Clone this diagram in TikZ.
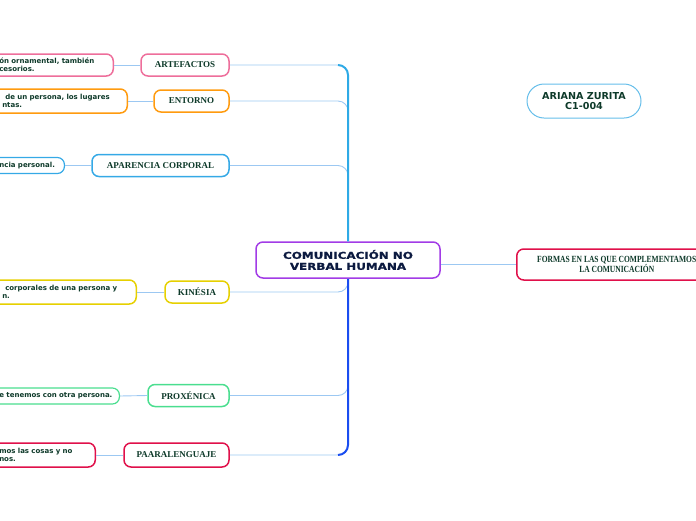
\documentclass[tikz,border=0pt]{standalone}
\usepackage{fontspec}
\setmainfont{Liberation Serif}
\newfontfamily\leaffont{DejaVu Sans}
\newfontfamily\titlefont[FakeStretch=1.25, FakeBold=1.2]{DejaVu Sans}
\newfontfamily\condfont[FakeStretch=0.8]{Liberation Serif}
\usetikzlibrary{positioning, calc}

\definecolor{pinkc}{HTML}{EE6E9B}
\definecolor{orangec}{HTML}{FF9B0F}
\definecolor{bluec}{HTML}{35A9E6}
\definecolor{yellowc}{HTML}{E6D000}
\definecolor{greenc}{HTML}{4ADE8F}
\definecolor{redc}{HTML}{E0104A}
\definecolor{purplec}{HTML}{A23BE6}
\definecolor{textc}{HTML}{0E3A2A}
\definecolor{navyc}{HTML}{0C1A40}
\definecolor{trunkup}{HTML}{2EAAE6}
\definecolor{trunkdown}{HTML}{1A4DF0}
\definecolor{branchc}{HTML}{9CC8F2}
\definecolor{namec}{HTML}{66BEEA}

\begin{document}
\begin{tikzpicture}[x=1pt, y=-1pt,
    box/.style={draw, line width=1.5pt, fill=white, rounded corners=7pt},
    topic/.style={box, minimum height=22pt, inner sep=0pt, text=textc,
        font=\bfseries\fontsize{9}{10}\selectfont},
    leaf/.style={box, anchor=east, align=left, inner xsep=10pt, inner ysep=3pt,
        text=textc, font=\leaffont\bfseries\fontsize{7}{8}\selectfont},
    branch/.style={draw=branchc, line width=0.9pt, rounded corners=10pt},
    trunk/.style={line width=2pt, rounded corners=10pt}]
\useasboundingbox (0,0) rectangle (696,520);

% central idea
\node[box, draw=purplec, minimum width=184pt, minimum height=36pt, align=center,
    text=navyc, font=\titlefont\bfseries\fontsize{9.5}{11}\selectfont]
    (center) at (348,260) {COMUNICACIÓN NO\\VERBAL HUMANA};

% topics
\node[topic, draw=pinkc, minimum width=88pt] (art) at (185,65) {ARTEFACTOS};
\node[topic, draw=orangec, minimum width=75pt] (ent) at (191.5,101) {ENTORNO};
\node[topic, draw=bluec, minimum width=137pt] (apa) at (160.5,165.5) {APARENCIA CORPORAL};
\node[topic, draw=yellowc, minimum width=64pt] (kin) at (197,292) {KINÉSIA};
\node[topic, draw=greenc, minimum width=81pt] (pro) at (188.5,395.5) {PROXÉNICA};
\node[topic, draw=redc, minimum width=105pt, minimum height=24pt] (paa) at (176.5,455) {PAARALENGUAJE};

% leaves
\node[leaf, draw=pinkc, text width=104pt, minimum height=22pt] (artleaf) at (114,65)
    {\mbox{ón ornamental, también}\\\mbox{cesorios.}};
\node[leaf, draw=orangec, text width=115pt, minimum height=24pt] (entleaf) at (128,101)
    {\mbox{\hspace*{3pt}de un persona, los lugares}\\\mbox{ntas.}};
\node[leaf, draw=bluec, line width=1.2pt, text width=55pt, minimum height=16pt] (apaleaf) at (65,165.5)
    {\mbox{ncia personal.}};
\node[leaf, draw=yellowc, text width=124pt, minimum height=24pt] (kinleaf) at (137,292)
    {\mbox{\hspace*{3pt}corporales de una persona y}\\\mbox{n.}};
\node[leaf, draw=greenc, line width=1.2pt, text width=110pt, minimum height=16pt] (proleaf) at (120,396)
    {\mbox{e tenemos con otra persona.}};
\node[leaf, draw=redc, text width=86pt, minimum height=24pt] (paaleaf) at (96,455)
    {\mbox{mos las cosas y no}\\\mbox{nos.}};

% other nodes
\node[box, draw=namec, line width=1pt, rounded corners=17pt, minimum width=114pt,
    minimum height=34pt, align=center, text=textc,
    font=\leaffont\bfseries\fontsize{9.6}{10.5}\selectfont]
    (name) at (584,101) {ARIANA ZURITA\\C1-004};
\node[box, draw=redc, anchor=west, minimum width=200pt, minimum height=31pt,
    align=center, text=textc, font=\condfont\bfseries\fontsize{9.4}{9}\selectfont]
    (formas) at (516,264.5) {FORMAS EN LAS QUE COMPLEMENTAMOS\\LA COMUNICACIÓN};

% branches
\foreach \t in {art, ent, apa}
    \draw[branch] (center.north) |- (\t.east);
\foreach \t in {kin, pro, paa}
    \draw[branch] (center.south) |- (\t.east);
\coordinate (toptrunk) at (338,65);
\coordinate (bottrunk) at (338,455);
\draw[trunk, draw=trunkup] (center.north) |- (toptrunk);
\draw[trunk, draw=trunkdown] (center.south) |- (bottrunk);
\draw[branch] (center.east |- formas.west) -- (formas.west);

% leaf lines
\draw[branch] (artleaf.east) -- (art.west);
\draw[branch] (entleaf.east) -- (ent.west);
\draw[branch] (apaleaf.east) -- (apa.west);
\draw[branch] (kinleaf.east) -- (kin.west);
\draw[branch] (proleaf.east) -- (pro.west);
\draw[branch] (paaleaf.east) -- (paa.west);
\end{tikzpicture}
\end{document}
